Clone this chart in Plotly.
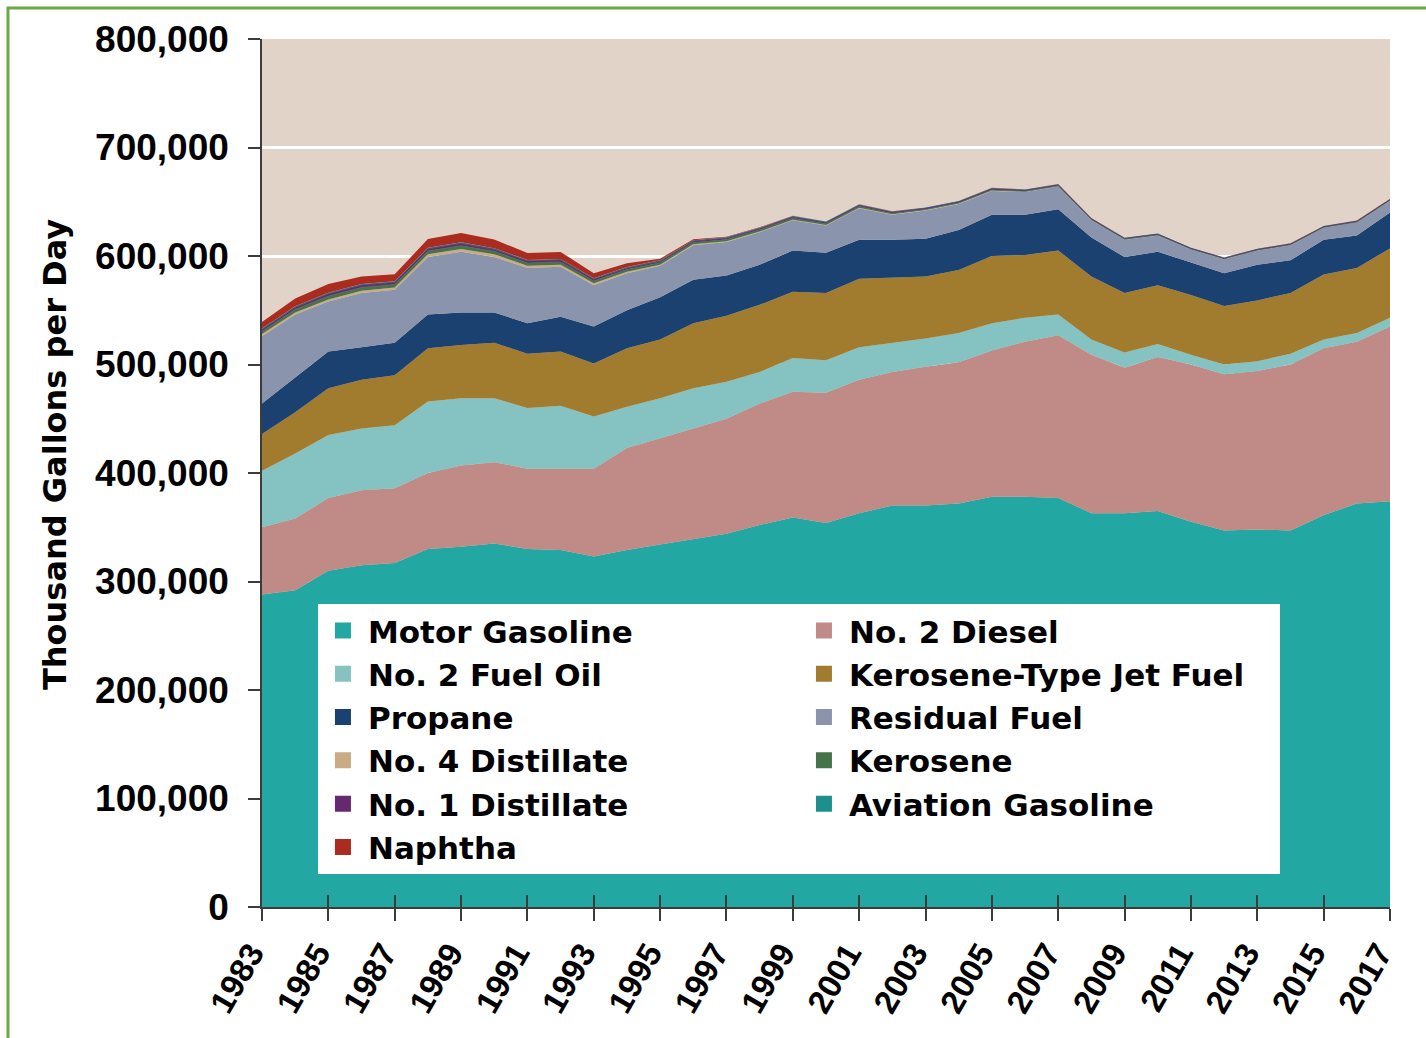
import plotly.graph_objects as go

# Daily product supplied, thousand gallons per day, 1983-2017
years = list(range(1983, 2018))
year_ticks = list(range(1983, 2018, 2))

motor_gasoline = [288000, 292000, 310000, 315000, 317000, 330000, 332000, 335000, 330000, 329000,
                  323000, 329000, 334000, 339000, 344000, 352000, 359000, 354000, 363000, 370000,
                  370000, 372000, 378000, 378000, 377000, 363000, 363000, 365000, 355000, 347000,
                  348000, 347000, 361000, 372000, 374000]
no2_diesel = [62000, 66000, 67000, 69000, 69000, 70000, 75000, 75000, 74000, 75000,
              81000, 94000, 98000, 102000, 106000, 112000, 116000, 120000, 123000, 123000,
              128000, 130000, 135000, 143000, 150000, 146000, 134000, 142000, 145000, 144000,
              146000, 153000, 154000, 149000, 161000]
no2_fuel_oil = [52000, 60000, 58000, 57000, 58000, 66000, 62000, 59000, 56000, 58000,
                48000, 38000, 37000, 37000, 34000, 29000, 31000, 30000, 30000, 27000,
                26000, 27000, 25000, 22000, 19000, 14000, 14000, 12000, 9000, 9000,
                9000, 10000, 8000, 8000, 8000]
jet_fuel = [34000, 38000, 43000, 45000, 46000, 49000, 49000, 51000, 50000, 50000,
            49000, 54000, 54000, 60000, 61000, 62000, 61000, 62000, 63000, 60000,
            57000, 58000, 62000, 58000, 59000, 58000, 55000, 54000, 55000, 54000,
            56000, 56000, 60000, 60000, 64000]
propane = [28000, 32000, 34000, 30000, 30000, 31000, 30000, 28000, 28000, 32000,
           34000, 35000, 39000, 40000, 37000, 37000, 38000, 37000, 36000, 35000,
           35000, 37000, 38000, 37000, 38000, 36000, 33000, 31000, 30000, 30000,
           33000, 30000, 32000, 30000, 33000]
residual_fuel = [62000, 58000, 46000, 50000, 49000, 53000, 56000, 51000, 51000, 46000,
                 38000, 34000, 29000, 32000, 31000, 30000, 28000, 25000, 29000, 23000,
                 26000, 24000, 22000, 21000, 21000, 16000, 16000, 15000, 12000, 13000,
                 13000, 14000, 11000, 12000, 11000]
no4_distillate = [2000, 2000, 2000, 2000, 2000, 2500, 2500, 2500, 2000, 2000,
                  1800, 1500, 1000, 800, 700, 600, 500, 500, 500, 400,
                  300, 300, 300, 300, 300, 200, 200, 200, 200, 200,
                  200, 200, 200, 200, 200]
kerosene = [2500, 2800, 3000, 3000, 2800, 3000, 3000, 2800, 2500, 2500,
            2200, 2000, 1800, 1600, 1500, 1500, 1400, 1300, 1200, 1000,
            800, 800, 800, 600, 500, 400, 400, 300, 300, 300,
            300, 300, 300, 300, 300]
no1_distillate = [1500, 1800, 2000, 2000, 1800, 2000, 2000, 1800, 1800, 1800,
                  1500, 1300, 1200, 1200, 1100, 1000, 1000, 1000, 900, 900,
                  800, 800, 800, 700, 700, 600, 600, 600, 500, 500,
                  500, 500, 500, 500, 500]
aviation_gasoline = [1200, 1200, 1200, 1200, 1100, 1100, 1100, 1100, 1000, 1000,
                     1000, 1000, 1000, 900, 900, 900, 900, 900, 800, 800,
                     800, 800, 800, 700, 700, 700, 600, 600, 600, 600,
                     600, 600, 600, 600, 600]
naphtha = [6000, 7000, 8000, 7000, 6500, 8000, 8500, 8000, 6500, 6500,
           4500, 3500, 1500, 1000, 600, 400, 300, 200, 200, 100,
           100, 100, 100, 100, 100, 100, 100, 100, 100, 100,
           100, 100, 100, 100, 100]

# Stack order (bottom to top); also the legend order, read row by row
series = [
    ("Motor Gasoline", motor_gasoline, "#22A7A3"),
    ("No. 2 Diesel", no2_diesel, "#C08A87"),
    ("No. 2 Fuel Oil", no2_fuel_oil, "#85C3C2"),
    ("Kerosene-Type Jet Fuel", jet_fuel, "#A27C2E"),
    ("Propane", propane, "#1B4171"),
    ("Residual Fuel", residual_fuel, "#8A94AD"),
    ("No. 4 Distillate", no4_distillate, "#C9AB84"),
    ("Kerosene", kerosene, "#47734C"),
    ("No. 1 Distillate", no1_distillate, "#66296F"),
    ("Aviation Gasoline", aviation_gasoline, "#1E8F8F"),
    ("Naphtha", naphtha, "#AC2B1F"),
]
thin_lines = {"Kerosene", "No. 1 Distillate"}

fig = go.Figure()

for name, vals, color in series:
    fig.add_trace(go.Scatter(
        x=years, y=vals, name=name, stackgroup="fuel",
        mode="lines",
        line=dict(width=0.8 if name in thin_lines else 0, color=color),
        fillcolor=color, showlegend=False, hoverinfo="skip",
    ))

# Square swatches for the legend
for name, vals, color in series:
    fig.add_trace(go.Scatter(
        x=[None], y=[None], name=name, mode="markers", xaxis="x2",
        marker=dict(symbol="square", size=16, color=color),
        showlegend=True, hoverinfo="skip",
    ))

axis_color = "#3C3C3C"
tick_family = "Liberation Sans, Arial, sans-serif"
wide_family = "DejaVu Sans, Verdana, sans-serif"

fig.update_layout(
    width=1426, height=1038,
    margin=dict(l=262, r=36, t=39, b=131, autoexpand=False),
    paper_bgcolor="white",
    plot_bgcolor="#E2D3C9",
    font=dict(family=tick_family, color="black", weight="bold"),
    showlegend=True,
    legend=dict(
        orientation="h", traceorder="normal",
        x=0.0496, y=0.3493, xanchor="left", yanchor="top",
        bgcolor="white", borderwidth=0,
        itemwidth=40,
        entrywidth=426, entrywidthmode="pixels",
        font=dict(size=31, family=wide_family, color="black", weight="bold"),
        itemclick=False, itemdoubleclick=False,
    ),
    xaxis=dict(
        range=[1983, 2017], tickvals=year_ticks, ticktext=[str(y) for y in year_ticks],
        ticks="outside", ticklen=12, tickwidth=1.5, tickcolor=axis_color,
        showline=True, linecolor=axis_color, linewidth=1.5,
        showgrid=False, zeroline=False, tickangle=-60,
        ticklabelstandoff=0, ticklabelshift=-11,
        tickfont=dict(size=33, family=tick_family, color="black", weight="bold"),
    ),
    xaxis2=dict(
        overlaying="x", anchor="y", side="bottom",
        range=[1983, 2017], tickvals=year_ticks,
        ticks="inside", ticklen=12, tickwidth=1.5, tickcolor=axis_color,
        showticklabels=False, showline=False, showgrid=False, zeroline=False,
    ),
    yaxis=dict(
        range=[0, 800000], dtick=100000, tickformat=",",
        ticks="outside", ticklen=12, tickwidth=1.5, tickcolor=axis_color,
        showline=True, linecolor=axis_color, linewidth=1.5,
        showgrid=True, gridcolor="white", gridwidth=2.5, zeroline=False,
        ticklabelstandoff=12,
        tickfont=dict(size=37, family=tick_family, color="black", weight="bold"),
    ),
    annotations=[dict(
        text="Thousand Gallons per Day", textangle=-90,
        xref="paper", yref="paper", x=-0.1835, y=0.5207,
        xanchor="center", yanchor="middle", showarrow=False,
        font=dict(size=32, family=wide_family, color="black", weight="bold"),
    )],
    shapes=[dict(
        type="rect", xref="paper", yref="paper",
        x0=-0.2252, y0=-0.3, x1=1.3, y1=1.0357,
        line=dict(color="#6AAA45", width=3), fillcolor="rgba(0,0,0,0)",
        layer="above",
    )],
)

fig.write_html("out.html")
